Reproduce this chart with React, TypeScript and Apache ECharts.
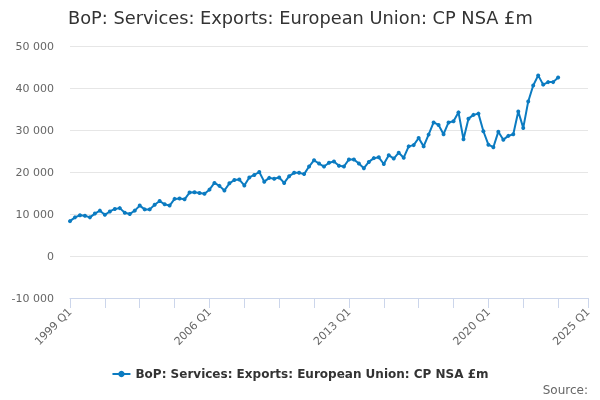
import React, { useEffect, useRef } from "react";
import * as echarts from "echarts";

const TITLE = "BoP: Services: Exports: European Union: CP NSA £m";
const SERIES_NAME = "BoP: Services: Exports: European Union: CP NSA £m";

const START_YEAR = 1999;
const END_YEAR = 2025; // axis runs to 2025 Q1

const values: number[] = [
  8300, 9200, 9700, 9600, 9200, 10100, 10800, 9800, 10600, 11200,
  11400, 10300, 10000, 10800, 12000, 11100, 11100, 12200, 13100, 12300,
  12000, 13600, 13700, 13500, 15100, 15200, 15000, 14800, 15800, 17400,
  16700, 15600, 17300, 18100, 18200, 16800, 18700, 19300, 20000, 17700,
  18600, 18400, 18700, 17400, 19000, 19800, 19800, 19500, 21300, 22800,
  22000, 21300, 22200, 22500, 21500, 21300, 23000, 23000, 22000, 20900,
  22400, 23300, 23500, 21900, 24000, 23200, 24600, 23400, 26100, 26400,
  28100, 26100, 28900, 31800, 31200, 29000, 31800, 32100, 34200, 27800,
  32700, 33600, 33900, 29700, 26500, 25900, 29600, 27700, 28600, 29000,
  34400, 30500, 36800, 40600, 43000, 40800, 41400, 41400, 42500,
];

const categories: string[] = [];
for (let y = START_YEAR; y <= END_YEAR; y++) {
  for (let q = 1; q <= 4; q++) {
    if (y === END_YEAR && q > 1) break;
    categories.push(`${y} Q${q}`);
  }
}

const Y_MIN = -10000;
const Y_MAX = 50000;
const Y_STEP = 10000;

const fmt = (v: number) => {
  const s = Math.abs(v).toString().replace(/\B(?=(\d{3})+(?!\d))/g, " ");
  return (v < 0 ? "-" : "") + s;
};

export default function App() {
  const ref = useRef<HTMLDivElement>(null);
  useEffect(() => {
    if (!ref.current) return;
    const chart = echarts.init(ref.current, undefined, { renderer: "svg" });
    const last = categories.length - 1;
    const font = "DejaVu Sans";
    chart.setOption({
      animation: false,
      textStyle: { fontFamily: font },
      title: {
        text: TITLE,
        left: 68,
        top: 8,
        padding: 0,
        textStyle: { fontSize: 17.8, fontWeight: "normal", color: "#333333", fontFamily: font },
      },
      grid: { left: 70, right: 12, top: 46, bottom: 102, containLabel: false },
      legend: {
        bottom: 15,
        left: "center",
        itemWidth: 18,
        itemHeight: 8,
        textStyle: { fontSize: 12, fontWeight: "bold", color: "#333333", fontFamily: font },
        data: [SERIES_NAME],
      },
      xAxis: {
        type: "category",
        data: categories,
        boundaryGap: false,
        axisLine: { onZero: false, lineStyle: { color: "#ccd6eb", width: 1 } },
        axisTick: {
          length: 10,
          lineStyle: { color: "#ccd6eb" },
          interval: (i: number) => i % 7 === 0 || i === last,
        },
        axisLabel: {
          rotate: 45,
          margin: 12,
          fontSize: 11,
          color: "#666666",
          fontFamily: font,
          interval: (i: number) => i % 28 === 0 || i === last,
        },
        splitLine: { show: false },
      },
      yAxis: {
        type: "value",
        min: Y_MIN,
        max: Y_MAX,
        interval: Y_STEP,
        axisLine: { show: false },
        axisTick: { show: false },
        axisLabel: {
          fontSize: 11,
          color: "#666666",
          margin: 16,
          fontFamily: font,
          formatter: (v: number) => fmt(v),
        },
        splitLine: { lineStyle: { color: "#e6e6e6", width: 1 } },
      },
      graphic: [
        {
          type: "text",
          right: 12,
          top: 384,
          style: { text: "Source:", fontSize: 12, fill: "#666666", fontFamily: font },
        },
      ],
      series: [
        {
          name: SERIES_NAME,
          type: "line",
          data: values,
          symbol: "circle",
          symbolSize: 4,
          showSymbol: true,
          showAllSymbol: true,
          lineStyle: { color: "#0b7bc1", width: 2 },
          itemStyle: { color: "#0b7bc1" },
        },
      ],
    });
    return () => chart.dispose();
  }, []);
  return (
    <div
      ref={ref}
      style={{ position: "fixed", left: 0, top: 0, width: 600, height: 400 }}
    />
  );
}
